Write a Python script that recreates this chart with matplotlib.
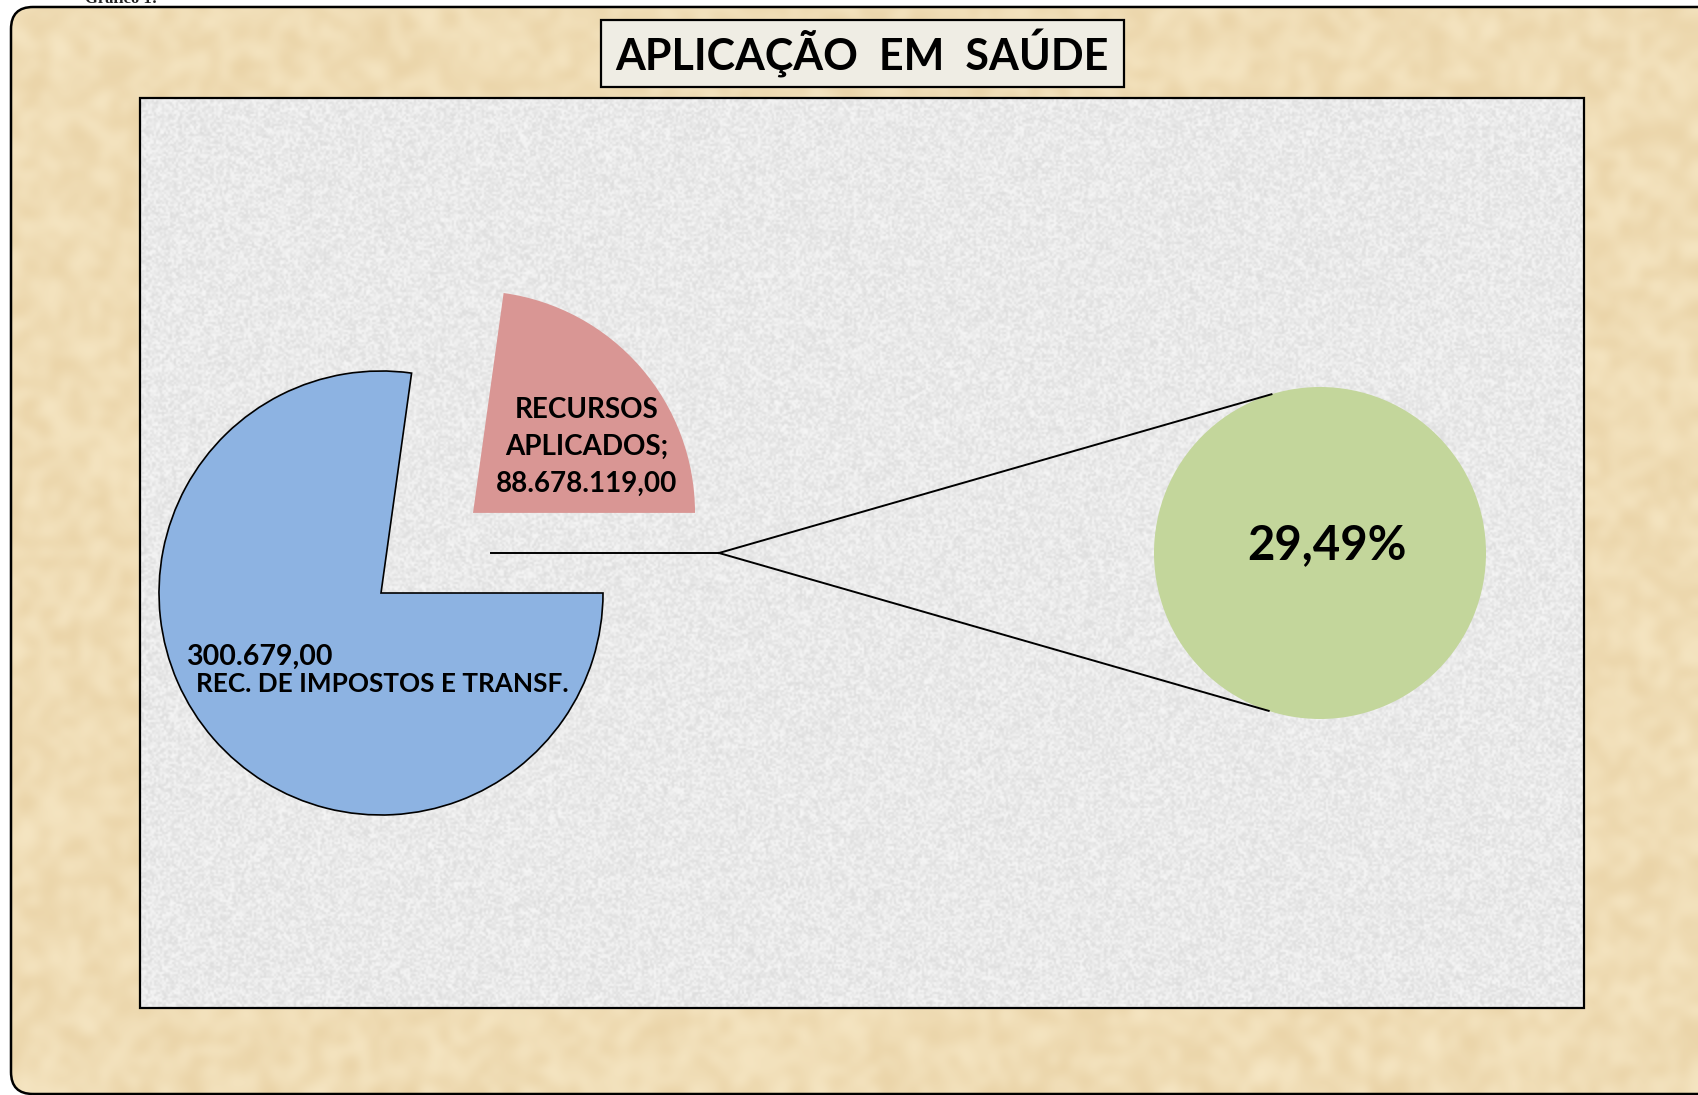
import numpy as np
import matplotlib.pyplot as plt
from matplotlib.patches import FancyBboxPatch, Rectangle

W, H = 1699, 1095

titulo = 'APLICAÇÃO  EM  SAÚDE'
rotulos = ['RECURSOS\nAPLICADOS;', 'REC. DE IMPOSTOS E TRANSF.']
valores_txt = ['88.678.119,00', '300.679,00']
fatias = [22.8, 77.2]      # shares as drawn
percentual = '29,49%'
cores = ['#D99694', '#8DB3E2']
cor_sub = '#C3D69B'

plt.rcParams['font.family'] = ['Lato', 'DejaVu Sans']


def py(y):
    # pixel row (from top) -> data y
    return H - y


fig = plt.figure(figsize=(W / 100, H / 100), dpi=100)
ax = fig.add_axes([0, 0, 1, 1])
ax.axis('off')

rng = np.random.default_rng(3)

# parchment background inside rounded frame
moldura = FancyBboxPatch((11, py(1094)), 1760, 1087, boxstyle='round,pad=0,rounding_size=22',
                         facecolor='none', edgecolor='black', linewidth=1.8, zorder=2)
ax.add_patch(moldura)
n1 = rng.random((110, 170))
base = np.array([0.94, 0.865, 0.71])
tan = base[None, None, :] + (n1[:, :, None] - 0.5) * np.array([0.05, 0.08, 0.12])[None, None, :]
im = ax.imshow(np.clip(tan, 0, 1), extent=(0, W, 0, H), interpolation='bicubic', aspect='auto', zorder=0)
im.set_clip_path(moldura)

# grey speckled plot area
x0, y0, x1, y1 = 140, 98, 1584, 1008
n2 = rng.random(((y1 - y0) // 2, (x1 - x0) // 2))
cinza = 0.915 + (n2 - 0.5) * 0.10
ax.imshow(np.clip(cinza, 0, 1), cmap='gray', vmin=0, vmax=1, extent=(x0, x1, py(y1), py(y0)),
          interpolation='bilinear', aspect='auto', zorder=0.5)
ax.add_patch(Rectangle((x0, py(y1)), x1 - x0, y1 - y0, facecolor='none', edgecolor='black',
                       linewidth=1.6, zorder=2))

# title
ax.add_patch(Rectangle((601, py(87)), 523, 67, facecolor='#EFEDE4', edgecolor='black',
                       linewidth=1.6, zorder=2))
ax.text(862, py(54), titulo, ha='center', va='center', fontsize=31, fontweight='bold', zorder=3)
ax.text(85, py(3), 'Gráfico 1:', family=['Liberation Serif'], fontweight='bold', fontsize=12,
        color='#222222', va='baseline')

# main pie
centro = (381, py(593))
raio = 222
wedges, _ = ax.pie(fatias, colors=cores, startangle=0, counterclock=True, radius=raio,
                   center=centro, explode=[122, 0], wedgeprops=dict(linewidth=0))
wedges[1].set_edgecolor('black')
wedges[1].set_linewidth(1.2)
for w in wedges:
    w.set_zorder(3)

ax.text(587, py(447), rotulos[0] + '\n' + valores_txt[0], ha='center', va='center',
        fontsize=20, fontweight='bold', linespacing=1.5, zorder=4)
ax.text(186, py(657), valores_txt[1], ha='left', va='center', fontsize=20.5,
        fontweight='bold', zorder=4)
ax.text(382, py(684), rotulos[1], ha='center', va='center', fontsize=18.8,
        fontweight='bold', zorder=4)

# secondary pie
c2 = (1320, py(553))
r2 = 166
sub, _ = ax.pie([1], colors=[cor_sub], radius=r2, center=c2, wedgeprops=dict(linewidth=0))
sub[0].set_zorder(3)
ax.text(1327, py(545), percentual, ha='center', va='center', fontsize=34, fontweight='bold', zorder=4)

# connector lines
jx, jy = 719, py(553)
ax.plot([491, jx], [jy, jy], color='black', lw=1.4, zorder=4)
for ang in (107, -108):
    a = np.deg2rad(ang)
    ax.plot([jx, c2[0] + r2 * np.cos(a)], [jy, c2[1] + r2 * np.sin(a)], color='black', lw=1.4, zorder=4)

ax.set_xlim(0, W)
ax.set_ylim(0, H)
ax.set_aspect('auto')
fig.savefig('out.png', dpi=100)
